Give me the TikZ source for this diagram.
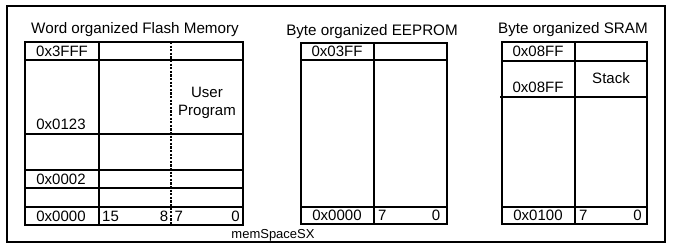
\documentclass[tikz,border=0pt]{standalone}
\usepackage{fontspec}
\setmainfont{Liberation Sans}
\begin{document}
\begin{tikzpicture}[x=1pt,y=-1pt,
  grid/.style={line width=1.4pt, black},
  frame/.style={line width=1.4pt, black},
  sep/.style={line width=1.4pt, dash pattern=on 2.2pt off 1.4pt},
  title/.style={font=\fontsize{15.2}{17}\selectfont, inner sep=0pt},
  cell/.style={font=\fontsize{15}{17}\selectfont, inner sep=0pt},
  note/.style={font=\fontsize{13}{15}\selectfont, inner sep=0pt}]
\useasboundingbox (0,0) rectangle (673,249);

% outer frame
\draw[frame] (7,6) rectangle (665,242);
\draw[line width=2.8pt] (6.3,242) -- (665.7,242);
\draw[line width=1.7pt] (665,6) -- (665,242);

% ---------- Word organized Flash Memory ----------
\node[title] (ftitle) at (135,30) {Word organized Flash Memory};
\draw[grid] (25,42) rectangle (243,225);
\draw[grid] (99,42) -- (99,225);
\foreach \yy in {60,134,170,188,207}
  \draw[grid] (25,\yy) -- (243,\yy);
\draw[sep] (171,42) -- (171,225);
\node[cell] (f1) at (62,51) {0x3FFF};
\node[cell] (f2) at (61,124) {0x0123};
\node[cell] (f3) at (61,179) {0x0002};
\node[cell] (f4) at (61,216) {0x0000};
\node[cell, align=center] (fprog) at (207,103) {User\\[1pt]Program};
\node[cell, anchor=west] (fb15) at (102,216) {15};
\node[cell, anchor=east] (fb8) at (168.5,216) {8};
\node[cell, anchor=west] (fb7) at (174.5,216) {7};
\node[cell, anchor=east] (fb0) at (240,216) {0};

% ---------- Byte organized EEPROM ----------
\node[title] (etitle) at (372,32) {Byte organized EEPROM};
\draw[grid] (301,43) rectangle (447,224);
\draw[grid] (374,43) -- (374,224);
\draw[grid] (301,60) -- (447,60);
\draw[grid] (301,207) -- (447,207);
\node[cell] (e1) at (337,51.5) {0x03FF};
\node[cell] (e2) at (337,215.5) {0x0000};
\node[cell, anchor=west] (eb7) at (378,215.5) {7};
\node[cell, anchor=east] (eb0) at (440.5,215.5) {0};

% ---------- Byte organized SRAM ----------
\node[title] (stitle) at (573,30) {Byte organized SRAM};
\draw[grid] (502,42) rectangle (647,224);
\draw[grid] (575,42) -- (575,224);
\draw[grid] (502,61) -- (647,61);
\draw[grid] (500,97) -- (647,97);
\draw[grid] (502,207) -- (647,207);
\node[cell] (s1) at (538,51.5) {0x08FF};
\node[cell] (s2) at (538,87.5) {0x08FF};
\node[cell] (sstack) at (611,78) {Stack};
\node[cell] (s3) at (538,215.5) {0x0100};
\node[cell, anchor=west] (sb7) at (579,215.5) {7};
\node[cell, anchor=east] (sb0) at (642,215.5) {0};

% caption
\node[note] (cap) at (273,235.5) {memSpaceSX};
\end{tikzpicture}
\end{document}
